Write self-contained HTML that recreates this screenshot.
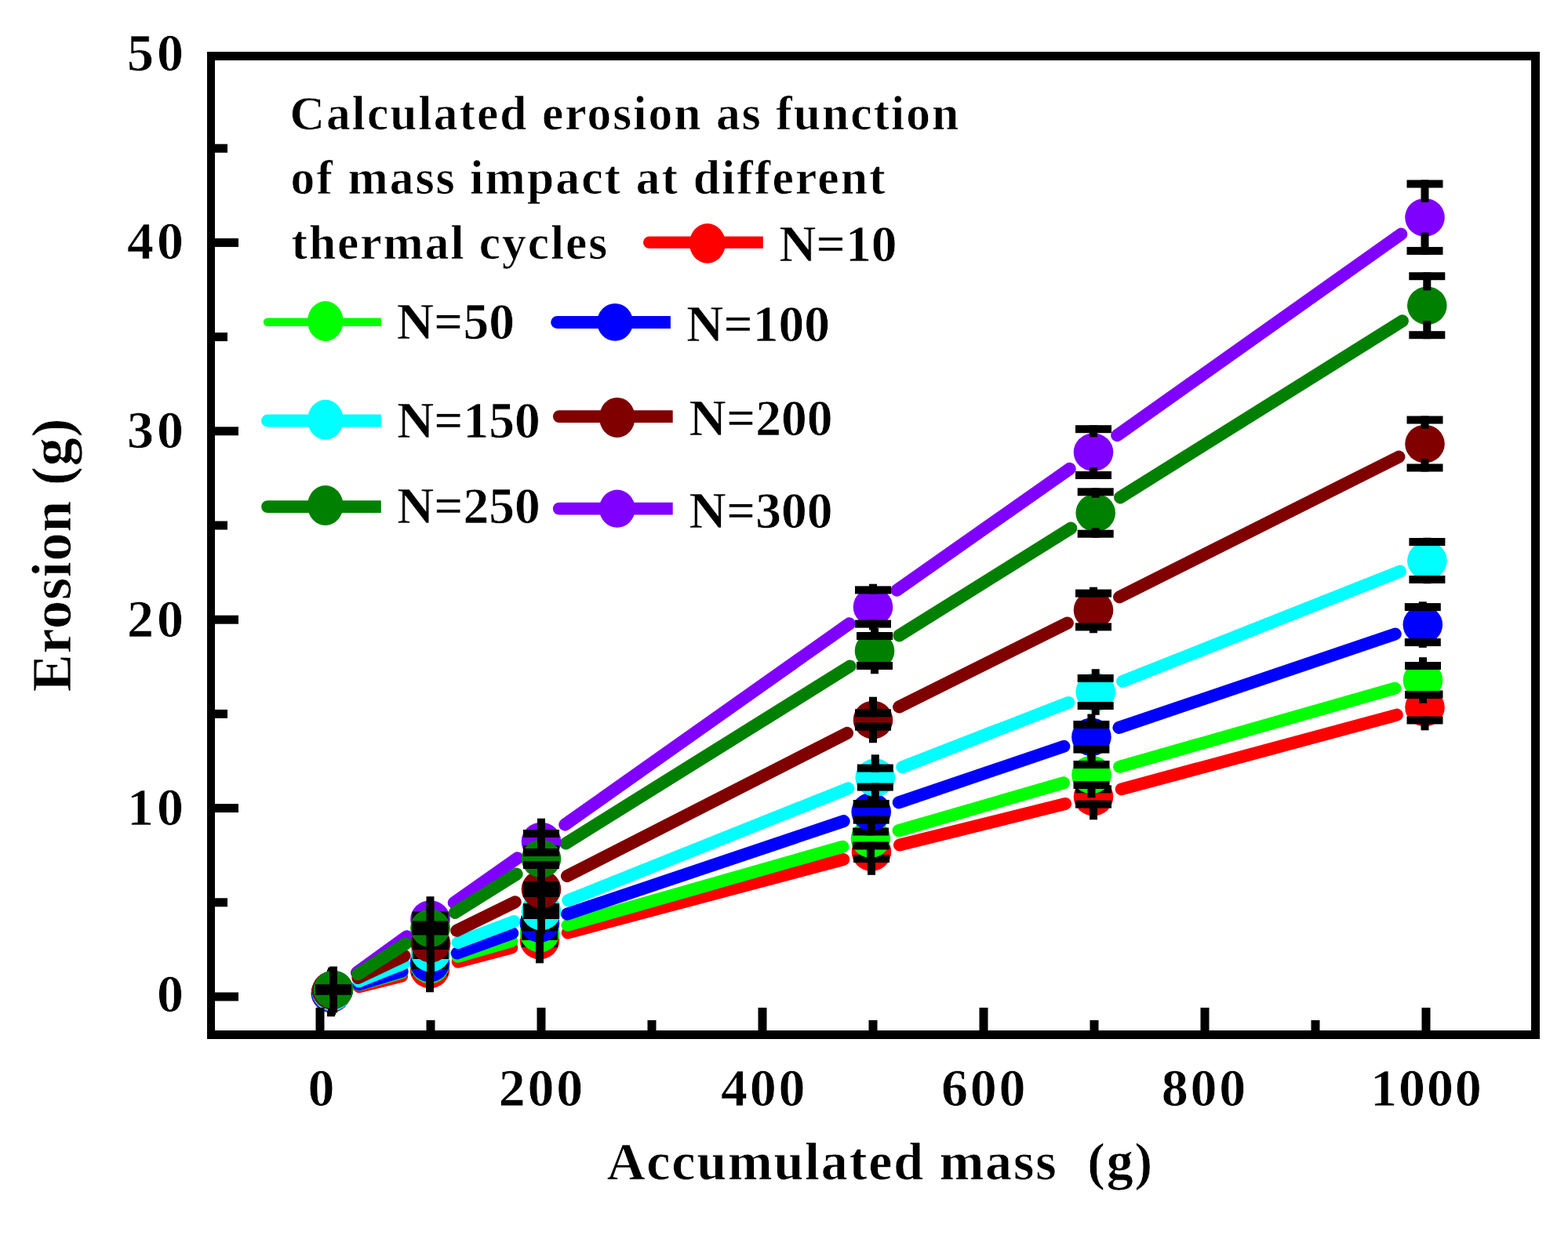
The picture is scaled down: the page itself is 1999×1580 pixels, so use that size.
<!DOCTYPE html><html><head><meta charset="utf-8"><style>html,body{margin:0;padding:0;background:#fff;}svg{display:block;}text{font-family:"Liberation Serif","Times New Roman",serif;font-weight:bold;fill:#000;stroke:#fff;stroke-width:0.7px;}</style></head><body>
<svg width="1999" height="1580" viewBox="0 0 1999 1580">
<rect x="0" y="0" width="1999" height="1580" fill="#fff"/>
<path d="M457.93,1258.16L512.07,1244.84M583.77,1226.55L652.23,1208.45M723.76,1189.49L1075.24,1096.01M1146.90,1077.56L1358.10,1024.94M1429.72,1006.36L1780.78,911.64" fill="none" stroke="#ff0000" stroke-width="16" stroke-linecap="round"/>
<path d="M457.58,1255.84L512.42,1240.16M583.58,1219.84L652.42,1200.16M723.58,1179.84L1074.42,1079.66M1145.54,1059.21L1355.96,998.29M1427.08,977.85L1778.42,877.65" fill="none" stroke="#00ff00" stroke-width="16" stroke-linecap="round"/>
<path d="M457.42,1255.32L512.58,1238.68M582.80,1215.45L653.20,1190.05M723.07,1165.70L1075.63,1047.10M1145.73,1023.38L1356.37,951.72M1426.44,927.92L1778.76,808.48" fill="none" stroke="#0000ff" stroke-width="16" stroke-linecap="round"/>
<path d="M457.39,1251.35L514.61,1228.65M583.63,1201.98L655.37,1175.02M724.35,1148.25L1081.45,1005.35M1150.29,978.20L1362.21,895.90M1431.10,868.87L1785.00,728.63" fill="none" stroke="#00ffff" stroke-width="16" stroke-linecap="round"/>
<path d="M456.41,1247.09L515.59,1218.91M582.23,1186.74L656.77,1150.26M722.95,1117.17L1080.05,934.83M1146.12,901.50L1360.88,794.50M1427.07,761.41L1783.43,582.59" fill="none" stroke="#800000" stroke-width="16" stroke-linecap="round"/>
<path d="M454.96,1240.29L518.54,1194.21M578.77,1151.22L659.73,1094.28M720.21,1051.64L1082.79,795.36M1143.28,752.73L1363.72,597.87M1424.19,555.21L1786.31,298.59" fill="none" stroke="#8000ff" stroke-width="16" stroke-linecap="round"/>
<path d="M456.23,1242.15L517.27,1203.35M579.87,1163.88L658.63,1114.62M721.40,1075.42L1083.60,849.58M1146.38,810.40L1365.32,673.60M1428.07,634.38L1787.93,409.32" fill="none" stroke="#008000" stroke-width="16" stroke-linecap="round"/>
<ellipse cx="422" cy="1267" rx="25.3" ry="24.3" fill="#ff0000"/>
<ellipse cx="548" cy="1236" rx="25.3" ry="24.3" fill="#ff0000"/>
<ellipse cx="688" cy="1199" rx="25.3" ry="24.3" fill="#ff0000"/>
<ellipse cx="1111" cy="1086.5" rx="25.3" ry="24.3" fill="#ff0000"/>
<ellipse cx="1394" cy="1016" rx="25.3" ry="24.3" fill="#ff0000"/>
<ellipse cx="1816.5" cy="902" rx="25.3" ry="24.3" fill="#ff0000"/>
<line x1="422" y1="1267" x2="422" y2="1242.7" stroke="#000" stroke-width="10" stroke-linecap="square"/>
<line x1="422" y1="1267" x2="422" y2="1291.3" stroke="#000" stroke-width="10" stroke-linecap="square"/>
<rect x="399" y="1262" width="46" height="10" fill="#000"/>
<rect x="399" y="1262" width="46" height="10" fill="#000"/>
<line x1="548" y1="1233" x2="548" y2="1211.7" stroke="#000" stroke-width="10" stroke-linecap="square"/>
<line x1="548" y1="1239" x2="548" y2="1260.3" stroke="#000" stroke-width="10" stroke-linecap="square"/>
<rect x="525" y="1228" width="46" height="10" fill="#000"/>
<rect x="525" y="1234" width="46" height="10" fill="#000"/>
<line x1="688" y1="1195" x2="688" y2="1174.7" stroke="#000" stroke-width="10" stroke-linecap="square"/>
<line x1="688" y1="1203" x2="688" y2="1223.3" stroke="#000" stroke-width="10" stroke-linecap="square"/>
<rect x="665" y="1190" width="46" height="10" fill="#000"/>
<rect x="665" y="1198" width="46" height="10" fill="#000"/>
<line x1="1111" y1="1078.0" x2="1111" y2="1062.2" stroke="#000" stroke-width="10" stroke-linecap="square"/>
<line x1="1111" y1="1095.0" x2="1111" y2="1110.8" stroke="#000" stroke-width="10" stroke-linecap="square"/>
<rect x="1088" y="1073.0" width="46" height="10" fill="#000"/>
<rect x="1088" y="1090.0" width="46" height="10" fill="#000"/>
<line x1="1394" y1="1006.4" x2="1394" y2="991.7" stroke="#000" stroke-width="10" stroke-linecap="square"/>
<line x1="1394" y1="1025.6" x2="1394" y2="1040.3" stroke="#000" stroke-width="10" stroke-linecap="square"/>
<rect x="1371" y="1001.4" width="46" height="10" fill="#000"/>
<rect x="1371" y="1020.5999999999999" width="46" height="10" fill="#000"/>
<line x1="1816.5" y1="885.5" x2="1816.5" y2="877.7" stroke="#000" stroke-width="10" stroke-linecap="square"/>
<line x1="1816.5" y1="918.5" x2="1816.5" y2="926.3" stroke="#000" stroke-width="10" stroke-linecap="square"/>
<rect x="1793.5" y="880.5" width="46" height="10" fill="#000"/>
<rect x="1793.5" y="913.5" width="46" height="10" fill="#000"/>
<ellipse cx="422" cy="1266" rx="25.3" ry="24.3" fill="#00ff00"/>
<ellipse cx="548" cy="1230" rx="25.3" ry="24.3" fill="#00ff00"/>
<ellipse cx="688" cy="1190" rx="25.3" ry="24.3" fill="#00ff00"/>
<ellipse cx="1110" cy="1069.5" rx="25.3" ry="24.3" fill="#00ff00"/>
<ellipse cx="1391.5" cy="988" rx="25.3" ry="24.3" fill="#00ff00"/>
<ellipse cx="1814" cy="867.5" rx="25.3" ry="24.3" fill="#00ff00"/>
<line x1="422" y1="1266" x2="422" y2="1241.7" stroke="#000" stroke-width="10" stroke-linecap="square"/>
<line x1="422" y1="1266" x2="422" y2="1290.3" stroke="#000" stroke-width="10" stroke-linecap="square"/>
<rect x="399" y="1261" width="46" height="10" fill="#000"/>
<rect x="399" y="1261" width="46" height="10" fill="#000"/>
<line x1="548" y1="1227" x2="548" y2="1205.7" stroke="#000" stroke-width="10" stroke-linecap="square"/>
<line x1="548" y1="1233" x2="548" y2="1254.3" stroke="#000" stroke-width="10" stroke-linecap="square"/>
<rect x="525" y="1222" width="46" height="10" fill="#000"/>
<rect x="525" y="1228" width="46" height="10" fill="#000"/>
<line x1="688" y1="1186" x2="688" y2="1165.7" stroke="#000" stroke-width="10" stroke-linecap="square"/>
<line x1="688" y1="1194" x2="688" y2="1214.3" stroke="#000" stroke-width="10" stroke-linecap="square"/>
<rect x="665" y="1181" width="46" height="10" fill="#000"/>
<rect x="665" y="1189" width="46" height="10" fill="#000"/>
<line x1="1110" y1="1060.5" x2="1110" y2="1045.2" stroke="#000" stroke-width="10" stroke-linecap="square"/>
<line x1="1110" y1="1078.5" x2="1110" y2="1093.8" stroke="#000" stroke-width="10" stroke-linecap="square"/>
<rect x="1087" y="1055.5" width="46" height="10" fill="#000"/>
<rect x="1087" y="1073.5" width="46" height="10" fill="#000"/>
<line x1="1391.5" y1="975" x2="1391.5" y2="963.7" stroke="#000" stroke-width="10" stroke-linecap="square"/>
<line x1="1391.5" y1="1001" x2="1391.5" y2="1012.3" stroke="#000" stroke-width="10" stroke-linecap="square"/>
<rect x="1368.5" y="970" width="46" height="10" fill="#000"/>
<rect x="1368.5" y="996" width="46" height="10" fill="#000"/>
<line x1="1814" y1="849.0" x2="1814" y2="843.2" stroke="#000" stroke-width="10" stroke-linecap="square"/>
<line x1="1814" y1="886.0" x2="1814" y2="891.8" stroke="#000" stroke-width="10" stroke-linecap="square"/>
<rect x="1791" y="844.0" width="46" height="10" fill="#000"/>
<rect x="1791" y="881.0" width="46" height="10" fill="#000"/>
<ellipse cx="422" cy="1266" rx="25.3" ry="24.3" fill="#0000ff"/>
<ellipse cx="548" cy="1228" rx="25.3" ry="24.3" fill="#0000ff"/>
<ellipse cx="688" cy="1177.5" rx="25.3" ry="24.3" fill="#0000ff"/>
<ellipse cx="1110.7" cy="1035.3" rx="25.3" ry="24.3" fill="#0000ff"/>
<ellipse cx="1391.4" cy="939.8" rx="25.3" ry="24.3" fill="#0000ff"/>
<ellipse cx="1813.8" cy="796.6" rx="25.3" ry="24.3" fill="#0000ff"/>
<line x1="422" y1="1266" x2="422" y2="1241.7" stroke="#000" stroke-width="10" stroke-linecap="square"/>
<line x1="422" y1="1266" x2="422" y2="1290.3" stroke="#000" stroke-width="10" stroke-linecap="square"/>
<rect x="399" y="1261" width="46" height="10" fill="#000"/>
<rect x="399" y="1261" width="46" height="10" fill="#000"/>
<line x1="548" y1="1225" x2="548" y2="1203.7" stroke="#000" stroke-width="10" stroke-linecap="square"/>
<line x1="548" y1="1231" x2="548" y2="1252.3" stroke="#000" stroke-width="10" stroke-linecap="square"/>
<rect x="525" y="1220" width="46" height="10" fill="#000"/>
<rect x="525" y="1226" width="46" height="10" fill="#000"/>
<line x1="688" y1="1172.5" x2="688" y2="1153.2" stroke="#000" stroke-width="10" stroke-linecap="square"/>
<line x1="688" y1="1182.5" x2="688" y2="1201.8" stroke="#000" stroke-width="10" stroke-linecap="square"/>
<rect x="665" y="1167.5" width="46" height="10" fill="#000"/>
<rect x="665" y="1177.5" width="46" height="10" fill="#000"/>
<line x1="1110.7" y1="1025.0" x2="1110.7" y2="1011.0" stroke="#000" stroke-width="10" stroke-linecap="square"/>
<line x1="1110.7" y1="1045.6" x2="1110.7" y2="1059.6" stroke="#000" stroke-width="10" stroke-linecap="square"/>
<rect x="1087.7" y="1020.0" width="46" height="10" fill="#000"/>
<rect x="1087.7" y="1040.6" width="46" height="10" fill="#000"/>
<line x1="1391.4" y1="924.0" x2="1391.4" y2="915.5" stroke="#000" stroke-width="10" stroke-linecap="square"/>
<line x1="1391.4" y1="955.5999999999999" x2="1391.4" y2="964.0999999999999" stroke="#000" stroke-width="10" stroke-linecap="square"/>
<rect x="1368.4" y="919.0" width="46" height="10" fill="#000"/>
<rect x="1368.4" y="950.5999999999999" width="46" height="10" fill="#000"/>
<line x1="1813.8" y1="774.1" x2="1813.8" y2="772.3000000000001" stroke="#000" stroke-width="10" stroke-linecap="square"/>
<line x1="1813.8" y1="819.1" x2="1813.8" y2="820.9" stroke="#000" stroke-width="10" stroke-linecap="square"/>
<rect x="1790.8" y="769.1" width="46" height="10" fill="#000"/>
<rect x="1790.8" y="814.1" width="46" height="10" fill="#000"/>
<ellipse cx="423" cy="1265" rx="25.3" ry="24.3" fill="#00ffff"/>
<ellipse cx="549" cy="1215" rx="25.3" ry="24.3" fill="#00ffff"/>
<ellipse cx="690" cy="1162" rx="25.3" ry="24.3" fill="#00ffff"/>
<ellipse cx="1115.8" cy="991.6" rx="25.3" ry="24.3" fill="#00ffff"/>
<ellipse cx="1396.7" cy="882.5" rx="25.3" ry="24.3" fill="#00ffff"/>
<ellipse cx="1819.4" cy="715" rx="25.3" ry="24.3" fill="#00ffff"/>
<line x1="423" y1="1265" x2="423" y2="1240.7" stroke="#000" stroke-width="10" stroke-linecap="square"/>
<line x1="423" y1="1265" x2="423" y2="1289.3" stroke="#000" stroke-width="10" stroke-linecap="square"/>
<rect x="400" y="1260" width="46" height="10" fill="#000"/>
<rect x="400" y="1260" width="46" height="10" fill="#000"/>
<line x1="549" y1="1212" x2="549" y2="1190.7" stroke="#000" stroke-width="10" stroke-linecap="square"/>
<line x1="549" y1="1218" x2="549" y2="1239.3" stroke="#000" stroke-width="10" stroke-linecap="square"/>
<rect x="526" y="1207" width="46" height="10" fill="#000"/>
<rect x="526" y="1213" width="46" height="10" fill="#000"/>
<line x1="690" y1="1157" x2="690" y2="1137.7" stroke="#000" stroke-width="10" stroke-linecap="square"/>
<line x1="690" y1="1167" x2="690" y2="1186.3" stroke="#000" stroke-width="10" stroke-linecap="square"/>
<rect x="667" y="1152" width="46" height="10" fill="#000"/>
<rect x="667" y="1162" width="46" height="10" fill="#000"/>
<line x1="1115.8" y1="979.6" x2="1115.8" y2="967.3000000000001" stroke="#000" stroke-width="10" stroke-linecap="square"/>
<line x1="1115.8" y1="1003.6" x2="1115.8" y2="1015.9" stroke="#000" stroke-width="10" stroke-linecap="square"/>
<rect x="1092.8" y="974.6" width="46" height="10" fill="#000"/>
<rect x="1092.8" y="998.6" width="46" height="10" fill="#000"/>
<line x1="1396.7" y1="865.0" x2="1396.7" y2="858.2" stroke="#000" stroke-width="10" stroke-linecap="square"/>
<line x1="1396.7" y1="900.0" x2="1396.7" y2="906.8" stroke="#000" stroke-width="10" stroke-linecap="square"/>
<rect x="1373.7" y="860.0" width="46" height="10" fill="#000"/>
<rect x="1373.7" y="895.0" width="46" height="10" fill="#000"/>
<line x1="1819.4" y1="691" x2="1819.4" y2="690.7" stroke="#000" stroke-width="10" stroke-linecap="square"/>
<line x1="1819.4" y1="739" x2="1819.4" y2="739.3" stroke="#000" stroke-width="10" stroke-linecap="square"/>
<rect x="1796.4" y="686" width="46" height="10" fill="#000"/>
<rect x="1796.4" y="734" width="46" height="10" fill="#000"/>
<ellipse cx="423" cy="1263" rx="25.3" ry="24.3" fill="#800000"/>
<ellipse cx="549" cy="1203" rx="25.3" ry="24.3" fill="#800000"/>
<ellipse cx="690" cy="1134" rx="25.3" ry="24.3" fill="#800000"/>
<ellipse cx="1113" cy="918" rx="25.3" ry="24.3" fill="#800000"/>
<ellipse cx="1394" cy="778" rx="25.3" ry="24.3" fill="#800000"/>
<ellipse cx="1816.5" cy="566" rx="25.3" ry="24.3" fill="#800000"/>
<line x1="423" y1="1263" x2="423" y2="1238.7" stroke="#000" stroke-width="10" stroke-linecap="square"/>
<line x1="423" y1="1263" x2="423" y2="1287.3" stroke="#000" stroke-width="10" stroke-linecap="square"/>
<rect x="400" y="1258" width="46" height="10" fill="#000"/>
<rect x="400" y="1258" width="46" height="10" fill="#000"/>
<line x1="549" y1="1200" x2="549" y2="1178.7" stroke="#000" stroke-width="10" stroke-linecap="square"/>
<line x1="549" y1="1206" x2="549" y2="1227.3" stroke="#000" stroke-width="10" stroke-linecap="square"/>
<rect x="526" y="1195" width="46" height="10" fill="#000"/>
<rect x="526" y="1201" width="46" height="10" fill="#000"/>
<line x1="690" y1="1129" x2="690" y2="1109.7" stroke="#000" stroke-width="10" stroke-linecap="square"/>
<line x1="690" y1="1139" x2="690" y2="1158.3" stroke="#000" stroke-width="10" stroke-linecap="square"/>
<rect x="667" y="1124" width="46" height="10" fill="#000"/>
<rect x="667" y="1134" width="46" height="10" fill="#000"/>
<line x1="1113" y1="909.3" x2="1113" y2="893.7" stroke="#000" stroke-width="10" stroke-linecap="square"/>
<line x1="1113" y1="926.7" x2="1113" y2="942.3" stroke="#000" stroke-width="10" stroke-linecap="square"/>
<rect x="1090" y="904.3" width="46" height="10" fill="#000"/>
<rect x="1090" y="921.7" width="46" height="10" fill="#000"/>
<line x1="1394" y1="756.6" x2="1394" y2="753.7" stroke="#000" stroke-width="10" stroke-linecap="square"/>
<line x1="1394" y1="799.4" x2="1394" y2="802.3" stroke="#000" stroke-width="10" stroke-linecap="square"/>
<rect x="1371" y="751.6" width="46" height="10" fill="#000"/>
<rect x="1371" y="794.4" width="46" height="10" fill="#000"/>
<line x1="1816.5" y1="535.5" x2="1816.5" y2="541.7" stroke="#000" stroke-width="10" stroke-linecap="square"/>
<line x1="1816.5" y1="596.5" x2="1816.5" y2="590.3" stroke="#000" stroke-width="10" stroke-linecap="square"/>
<rect x="1793.5" y="530.5" width="46" height="10" fill="#000"/>
<rect x="1793.5" y="591.5" width="46" height="10" fill="#000"/>
<ellipse cx="425" cy="1262" rx="25.3" ry="24.3" fill="#8000ff"/>
<ellipse cx="548.5" cy="1172.5" rx="25.3" ry="24.3" fill="#8000ff"/>
<ellipse cx="690" cy="1073" rx="25.3" ry="24.3" fill="#8000ff"/>
<ellipse cx="1113" cy="774" rx="25.3" ry="24.3" fill="#8000ff"/>
<ellipse cx="1394" cy="576.6" rx="25.3" ry="24.3" fill="#8000ff"/>
<ellipse cx="1816.5" cy="277.2" rx="25.3" ry="24.3" fill="#8000ff"/>
<line x1="425" y1="1262" x2="425" y2="1237.7" stroke="#000" stroke-width="10" stroke-linecap="square"/>
<line x1="425" y1="1262" x2="425" y2="1286.3" stroke="#000" stroke-width="10" stroke-linecap="square"/>
<rect x="402" y="1257" width="46" height="10" fill="#000"/>
<rect x="402" y="1257" width="46" height="10" fill="#000"/>
<line x1="548.5" y1="1167.5" x2="548.5" y2="1148.2" stroke="#000" stroke-width="10" stroke-linecap="square"/>
<line x1="548.5" y1="1177.5" x2="548.5" y2="1196.8" stroke="#000" stroke-width="10" stroke-linecap="square"/>
<rect x="525.5" y="1162.5" width="46" height="10" fill="#000"/>
<rect x="525.5" y="1172.5" width="46" height="10" fill="#000"/>
<line x1="690" y1="1063" x2="690" y2="1048.7" stroke="#000" stroke-width="10" stroke-linecap="square"/>
<line x1="690" y1="1083" x2="690" y2="1097.3" stroke="#000" stroke-width="10" stroke-linecap="square"/>
<rect x="667" y="1058" width="46" height="10" fill="#000"/>
<rect x="667" y="1078" width="46" height="10" fill="#000"/>
<line x1="1113" y1="752.4" x2="1113" y2="749.7" stroke="#000" stroke-width="10" stroke-linecap="square"/>
<line x1="1113" y1="795.6" x2="1113" y2="798.3" stroke="#000" stroke-width="10" stroke-linecap="square"/>
<rect x="1090" y="747.4" width="46" height="10" fill="#000"/>
<rect x="1090" y="790.6" width="46" height="10" fill="#000"/>
<line x1="1394" y1="547.2" x2="1394" y2="552.3000000000001" stroke="#000" stroke-width="10" stroke-linecap="square"/>
<line x1="1394" y1="606.0" x2="1394" y2="600.9" stroke="#000" stroke-width="10" stroke-linecap="square"/>
<rect x="1371" y="542.2" width="46" height="10" fill="#000"/>
<rect x="1371" y="601.0" width="46" height="10" fill="#000"/>
<line x1="1816.5" y1="234.5" x2="1816.5" y2="252.89999999999998" stroke="#000" stroke-width="10" stroke-linecap="square"/>
<line x1="1816.5" y1="319.9" x2="1816.5" y2="301.5" stroke="#000" stroke-width="10" stroke-linecap="square"/>
<rect x="1793.5" y="229.5" width="46" height="10" fill="#000"/>
<rect x="1793.5" y="314.9" width="46" height="10" fill="#000"/>
<ellipse cx="425" cy="1262" rx="25.3" ry="24.3" fill="#008000"/>
<ellipse cx="548.5" cy="1183.5" rx="25.3" ry="24.3" fill="#008000"/>
<ellipse cx="690" cy="1095" rx="25.3" ry="24.3" fill="#008000"/>
<ellipse cx="1115" cy="830" rx="25.3" ry="24.3" fill="#008000"/>
<ellipse cx="1396.7" cy="654" rx="25.3" ry="24.3" fill="#008000"/>
<ellipse cx="1819.3" cy="389.7" rx="25.3" ry="24.3" fill="#008000"/>
<line x1="425" y1="1260.2" x2="425" y2="1237.7" stroke="#000" stroke-width="10" stroke-linecap="square"/>
<line x1="425" y1="1263.8" x2="425" y2="1286.3" stroke="#000" stroke-width="10" stroke-linecap="square"/>
<rect x="402" y="1255.2" width="46" height="10" fill="#000"/>
<rect x="402" y="1258.8" width="46" height="10" fill="#000"/>
<line x1="548.5" y1="1179.5" x2="548.5" y2="1159.2" stroke="#000" stroke-width="10" stroke-linecap="square"/>
<line x1="548.5" y1="1187.5" x2="548.5" y2="1207.8" stroke="#000" stroke-width="10" stroke-linecap="square"/>
<rect x="525.5" y="1174.5" width="46" height="10" fill="#000"/>
<rect x="525.5" y="1182.5" width="46" height="10" fill="#000"/>
<line x1="690" y1="1087" x2="690" y2="1070.7" stroke="#000" stroke-width="10" stroke-linecap="square"/>
<line x1="690" y1="1103" x2="690" y2="1119.3" stroke="#000" stroke-width="10" stroke-linecap="square"/>
<rect x="667" y="1082" width="46" height="10" fill="#000"/>
<rect x="667" y="1098" width="46" height="10" fill="#000"/>
<line x1="1115" y1="811" x2="1115" y2="805.7" stroke="#000" stroke-width="10" stroke-linecap="square"/>
<line x1="1115" y1="849" x2="1115" y2="854.3" stroke="#000" stroke-width="10" stroke-linecap="square"/>
<rect x="1092" y="806" width="46" height="10" fill="#000"/>
<rect x="1092" y="844" width="46" height="10" fill="#000"/>
<line x1="1396.7" y1="627.3" x2="1396.7" y2="629.7" stroke="#000" stroke-width="10" stroke-linecap="square"/>
<line x1="1396.7" y1="680.7" x2="1396.7" y2="678.3" stroke="#000" stroke-width="10" stroke-linecap="square"/>
<rect x="1373.7" y="622.3" width="46" height="10" fill="#000"/>
<rect x="1373.7" y="675.7" width="46" height="10" fill="#000"/>
<line x1="1819.3" y1="352.2" x2="1819.3" y2="365.4" stroke="#000" stroke-width="10" stroke-linecap="square"/>
<line x1="1819.3" y1="427.2" x2="1819.3" y2="414.0" stroke="#000" stroke-width="10" stroke-linecap="square"/>
<rect x="1796.3" y="347.2" width="46" height="10" fill="#000"/>
<rect x="1796.3" y="422.2" width="46" height="10" fill="#000"/>
<g fill="#000">
<rect x="264" y="66" width="10" height="1259"/>
<rect x="1952" y="66" width="11" height="1259"/>
<rect x="264" y="66" width="1699" height="11"/>
<rect x="264" y="1314" width="1699" height="11"/>
<rect x="274" y="1265.5" width="30" height="11"/>
<rect x="274" y="1145.3" width="16" height="11"/>
<rect x="274" y="1025.1" width="30" height="11"/>
<rect x="274" y="904.9" width="16" height="11"/>
<rect x="274" y="784.7" width="30" height="11"/>
<rect x="274" y="664.5" width="16" height="11"/>
<rect x="274" y="544.3" width="30" height="11"/>
<rect x="274" y="424.1" width="16" height="11"/>
<rect x="274" y="303.9" width="30" height="11"/>
<rect x="274" y="183.7" width="16" height="11"/>
<rect x="402.5" y="1285" width="11" height="29"/>
<rect x="543.5" y="1301" width="11" height="13"/>
<rect x="684.5" y="1285" width="11" height="29"/>
<rect x="825.5" y="1301" width="11" height="13"/>
<rect x="966.5" y="1285" width="11" height="29"/>
<rect x="1107.5" y="1301" width="11" height="13"/>
<rect x="1248.5" y="1285" width="11" height="29"/>
<rect x="1389.5" y="1301" width="11" height="13"/>
<rect x="1530.5" y="1285" width="11" height="29"/>
<rect x="1671.5" y="1301" width="11" height="13"/>
<rect x="1812.5" y="1285" width="11" height="29"/>
</g>
<text x="238.1" y="1289.5" font-size="68" letter-spacing="4" text-anchor="end">0</text>
<text x="238.1" y="1051.8" font-size="68" letter-spacing="4" text-anchor="end">10</text>
<text x="238.1" y="811.6" font-size="68" letter-spacing="4" text-anchor="end">20</text>
<text x="238.1" y="570.6" font-size="68" letter-spacing="4" text-anchor="end">30</text>
<text x="238.1" y="330.3" font-size="68" letter-spacing="4" text-anchor="end">40</text>
<text x="238.1" y="89.5" font-size="68" letter-spacing="4" text-anchor="end">50</text>
<text x="410.9" y="1410" font-size="68" letter-spacing="2.8" text-anchor="middle">0</text>
<text x="690.9" y="1410" font-size="68" letter-spacing="2.8" text-anchor="middle">200</text>
<text x="974.1" y="1410" font-size="68" letter-spacing="2.8" text-anchor="middle">400</text>
<text x="1255.1" y="1410" font-size="68" letter-spacing="2.8" text-anchor="middle">600</text>
<text x="1535.9" y="1410" font-size="68" letter-spacing="2.8" text-anchor="middle">800</text>
<text x="1818.9" y="1410" font-size="68" letter-spacing="1.8" text-anchor="middle">1000</text>
<text x="773.4" y="1503.5" font-size="68" letter-spacing="1.83" xml:space="preserve">Accumulated mass  (g)</text>
<text transform="translate(89.8,882.2) rotate(-90)" x="0" y="0" font-size="72" letter-spacing="0.8">Erosion (g)</text>
<text x="369.5" y="164.7" font-size="61.5" letter-spacing="2.05">Calculated erosion as function</text>
<text x="370.5" y="247.2" font-size="61.5" letter-spacing="2.13">of mass impact at different</text>
<text x="371.5" y="329.9" font-size="61.5" letter-spacing="1.95">thermal cycles</text>
<path d="M827.65,301.55 H972.8 V316.84999999999997 H827.65 A7.65,7.65 0 0 1 827.65,301.55 Z" fill="#ff0000"/>
<ellipse cx="901.9" cy="310.4" rx="23" ry="25.4" fill="#ff0000"/>
<text x="993.3" y="333.3" font-size="65.5">N=10</text>
<path d="M341.0,405.6 H485.8 V416.0 H341.0 A5.2,5.2 0 0 1 341.0,405.6 Z" fill="#00ff00"/>
<ellipse cx="414.8" cy="409.5" rx="22.8" ry="25.5" fill="#00ff00"/>
<text x="505.8" y="432" font-size="65.5">N=50</text>
<path d="M710.1,403.1 H854.9 V418.9 H710.1 A7.9,7.9 0 0 1 710.1,403.1 Z" fill="#0000ff"/>
<ellipse cx="784.1" cy="410.8" rx="22.9" ry="23.9" fill="#0000ff"/>
<text x="875.1" y="434.6" font-size="65.5">N=100</text>
<path d="M341.0,528.6 H485.8 V544.4 H341.0 A7.9,7.9 0 0 1 341.0,528.6 Z" fill="#00ffff"/>
<ellipse cx="414.9" cy="535.3" rx="22.8" ry="25.5" fill="#00ffff"/>
<text x="505.9" y="557.5" font-size="65.5">N=150</text>
<path d="M712.8,523.2 H857.7 V539.0 H712.8 A7.9,7.9 0 0 1 712.8,523.2 Z" fill="#800000"/>
<ellipse cx="786.8" cy="532.4" rx="22.8" ry="25.5" fill="#800000"/>
<text x="878.6" y="554.6" font-size="65.5">N=200</text>
<path d="M341.0,638.2 H485.8 V654.0 H341.0 A7.9,7.9 0 0 1 341.0,638.2 Z" fill="#008000"/>
<ellipse cx="414.8" cy="644.5" rx="22.8" ry="25.5" fill="#008000"/>
<text x="505.9" y="666.8" font-size="65.5">N=250</text>
<path d="M712.8,640.8000000000001 H857.7 V656.6 H712.8 A7.9,7.9 0 0 1 712.8,640.8000000000001 Z" fill="#8000ff"/>
<ellipse cx="786.8" cy="648.7" rx="22.8" ry="24.1" fill="#8000ff"/>
<text x="878.6" y="672.6" font-size="65.5">N=300</text>
</svg></body></html>
